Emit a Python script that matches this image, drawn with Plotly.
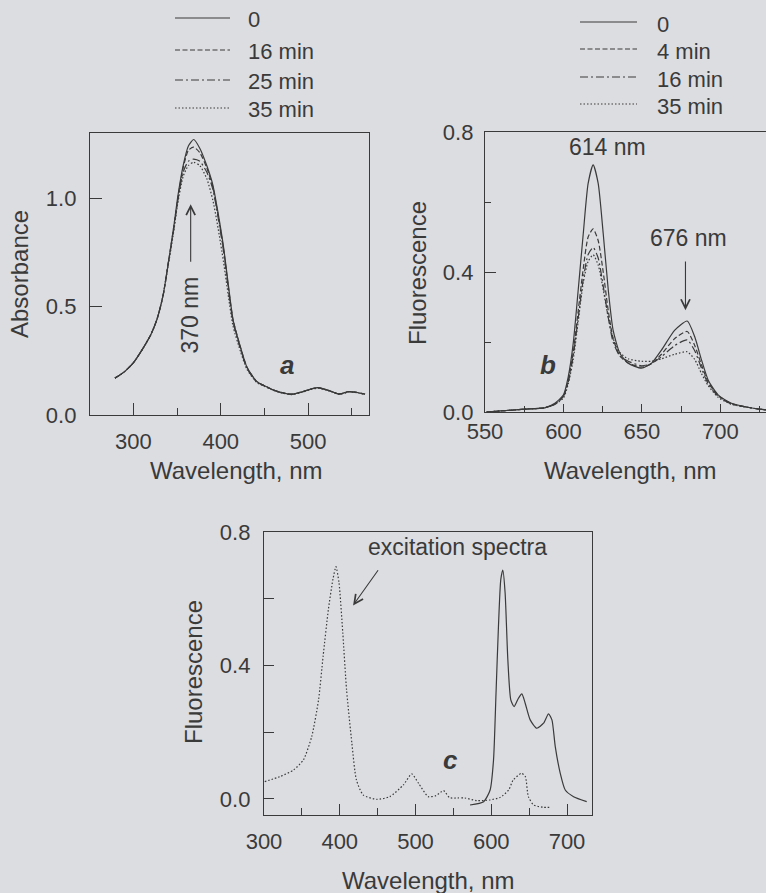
import plotly.graph_objects as go

# ---------------- data ----------------
# panel a: absorbance spectra
A_WL = [279, 290, 300, 310, 320, 327, 334, 340, 346, 351, 357, 363, 369, 376, 384, 391, 397, 403,
        409, 414, 422, 430, 441, 450, 460, 470, 481, 494, 503, 511, 518, 525, 536, 546, 555, 565]
A_0 = [0.17, 0.20, 0.24, 0.30, 0.37, 0.44, 0.55, 0.70, 0.86, 1.01, 1.15, 1.24, 1.27, 1.23, 1.15, 1.06,
       0.93, 0.78, 0.59, 0.44, 0.32, 0.22, 0.155, 0.135, 0.116, 0.103, 0.096, 0.108, 0.12, 0.126,
       0.12, 0.111, 0.097, 0.108, 0.105, 0.096]
A_16 = [0.17, 0.20, 0.24, 0.30, 0.37, 0.44, 0.55, 0.70, 0.86, 1.00, 1.14, 1.22, 1.235, 1.21, 1.14, 1.05,
        0.92, 0.77, 0.58, 0.44, 0.32, 0.22, 0.155, 0.135, 0.116, 0.103, 0.096, 0.108, 0.12, 0.126,
        0.12, 0.111, 0.097, 0.108, 0.105, 0.096]
A_25 = [0.17, 0.20, 0.24, 0.30, 0.37, 0.44, 0.55, 0.70, 0.85, 0.99, 1.12, 1.17, 1.18, 1.17, 1.12, 1.04,
        0.91, 0.76, 0.57, 0.43, 0.31, 0.215, 0.153, 0.134, 0.115, 0.102, 0.095, 0.107, 0.119, 0.125,
        0.119, 0.11, 0.096, 0.107, 0.104, 0.095]
A_35 = [0.17, 0.20, 0.24, 0.30, 0.37, 0.44, 0.55, 0.69, 0.84, 0.98, 1.10, 1.15, 1.165, 1.15, 1.09, 0.99,
        0.86, 0.71, 0.54, 0.41, 0.30, 0.21, 0.15, 0.132, 0.114, 0.101, 0.094, 0.106, 0.118, 0.124,
        0.118, 0.109, 0.095, 0.106, 0.103, 0.094]
A_NAMES = ["0", "16 min", "25 min", "35 min"]

# panel b: fluorescence emission during irradiation
B_WL = [551, 560, 575, 588, 594.5, 600, 603, 606.2, 609.4, 612.6, 615.7, 618.9, 622.1, 625.3, 628.5,
        631.6, 635.9, 641.2, 649.7, 656, 662.4, 670.9, 678.8, 683.6, 687.9, 692.2, 698.5, 707, 721.9, 729]
B_0 = [0.0, 0.003, 0.008, 0.012, 0.025, 0.049, 0.10, 0.196, 0.35, 0.51, 0.653, 0.706, 0.653, 0.51, 0.35,
       0.234, 0.168, 0.139, 0.125, 0.139, 0.177, 0.234, 0.26, 0.215, 0.149, 0.091, 0.049, 0.025, 0.01, 0.006]
B_4 = [0.0, 0.003, 0.008, 0.012, 0.022, 0.045, 0.09, 0.17, 0.29, 0.41, 0.50, 0.523, 0.49, 0.40, 0.29,
       0.21, 0.16, 0.14, 0.128, 0.138, 0.165, 0.21, 0.23, 0.19, 0.135, 0.085, 0.047, 0.024, 0.01, 0.006]
B_16 = [0.0, 0.003, 0.008, 0.012, 0.022, 0.045, 0.085, 0.16, 0.27, 0.38, 0.45, 0.47, 0.44, 0.36, 0.27,
        0.20, 0.16, 0.145, 0.132, 0.138, 0.158, 0.19, 0.206, 0.175, 0.125, 0.08, 0.045, 0.023, 0.01, 0.006]
B_35 = [0.0, 0.003, 0.008, 0.012, 0.022, 0.04, 0.08, 0.15, 0.26, 0.37, 0.43, 0.449, 0.42, 0.35, 0.27,
        0.21, 0.17, 0.152, 0.145, 0.145, 0.152, 0.165, 0.172, 0.15, 0.11, 0.075, 0.042, 0.022, 0.01, 0.006]
B_NAMES = ["0", "4 min", "16 min", "35 min"]

# panel c: excitation (dotted) and emission (solid) spectra
C_EX_WL = [301, 321, 339, 352, 363, 372, 378, 385, 391, 395, 399, 404, 409, 416, 422, 431, 449, 466, 484,
           495, 504, 517, 527, 537, 545, 555, 565, 581, 598, 612, 623, 629, 640, 645, 649, 656, 669, 678]
C_EX = [0.052, 0.067, 0.087, 0.117, 0.187, 0.297, 0.427, 0.568, 0.658, 0.696, 0.648, 0.498, 0.327, 0.167,
        0.057, 0.012, -0.001, 0.007, 0.042, 0.075, 0.047, 0.007, 0.01, 0.025, 0.004, 0.003, 0.003, -0.005,
        -0.003, 0.005, 0.027, 0.057, 0.077, 0.067, 0.007, -0.018, -0.025, -0.025]
C_EM_WL = [572, 590, 598.5, 603, 606.3, 609.5, 612.6, 615.3, 618.3, 621.9, 625.8, 630.2, 635.9, 640.4,
           644.8, 651.4, 660.2, 669, 675.6, 680.1, 684.5, 691.1, 697.7, 708.7, 726]
C_EM = [-0.018, -0.008, 0.027, 0.117, 0.317, 0.517, 0.658, 0.686, 0.618, 0.417, 0.297, 0.277, 0.302, 0.315,
        0.287, 0.237, 0.212, 0.227, 0.255, 0.237, 0.157, 0.077, 0.027, 0.007, -0.008]

# ---------------- style ----------------
W, H = 766, 893
INK = "#3a3a3a"
BG = "#dcdde1"
FONT = "Liberation Sans, Arial, sans-serif"
FS = 22
FS_TITLE = 24
FS_NOTE = 23
LW = 1.2
DASHES = ["solid", "5px,2.5px", "8px,3px,2px,3px", "1.5px,2px"]


def px(x):
    return x / W


def py(y):
    return 1 - y / H


fig = go.Figure()


def add_line(x, y, dash, xa, ya):
    fig.add_trace(go.Scatter(
        x=x, y=y, mode="lines", showlegend=False, hoverinfo="skip",
        line=dict(color=INK, width=LW, dash=dash, shape="spline", smoothing=0.6),
        xaxis=xa, yaxis=ya))


for vals, d in zip([A_0, A_16, A_25, A_35], DASHES):
    add_line(A_WL, vals, d, "x", "y")
for vals, d in zip([B_0, B_4, B_16, B_35], DASHES):
    add_line(B_WL, vals, d, "x2", "y2")
add_line(C_EX_WL, C_EX, DASHES[3], "x3", "y3")
add_line(C_EM_WL, C_EM, DASHES[0], "x3", "y3")


def axis(domain, rng, tick0, dtick, ticklen, minor_dtick=None, minor_len=None, fmt=None, anchor=None,
         standoff=4):
    d = dict(domain=domain, range=rng, tick0=tick0, dtick=dtick, ticks="inside", ticklen=ticklen,
             tickwidth=1.1, tickcolor=INK, showline=True, mirror=True, linecolor=INK, linewidth=1.3,
             showgrid=False, zeroline=False, tickfont=dict(family=FONT, size=FS, color=INK),
             anchor=anchor, ticklabelstandoff=standoff, automargin=False, fixedrange=True)
    if minor_dtick:
        d["minor"] = dict(ticks="inside", ticklen=minor_len, dtick=minor_dtick, tick0=tick0,
                          tickcolor=INK, tickwidth=1.1, showgrid=False)
    if fmt:
        d["tickformat"] = fmt
    return d


layout = dict(
    template="none",
    width=W, height=H, margin=dict(l=0, r=0, t=0, b=0, pad=0, autoexpand=False),
    paper_bgcolor=BG, plot_bgcolor=BG,
    font=dict(family=FONT, size=FS, color=INK),
    showlegend=False,
    xaxis=axis([px(90), px(369)], [250.5, 569.5], 300, 100, 12, 50, 7, anchor="y", standoff=6),
    yaxis=axis([py(415), py(133)], [0, 1.3], 0, 0.5, 12, fmt=".1f", anchor="x", standoff=8),
    xaxis2=axis([px(485), px(766)], [550, 729], 550, 50, 8, 25, 6, anchor="y2", standoff=-1),
    yaxis2=axis([py(412), py(132)], [0, 0.8], 0, 0.4, 11, 0.2, 6, fmt=".1f", anchor="x2", standoff=6),
    xaxis3=axis([px(264), px(592)], [300, 733], 300, 100, 11, 50, 7, anchor="y3", standoff=6),
    yaxis3=axis([py(815), py(532)], [-0.048, 0.8], 0, 0.4, 10, 0.2, 10, fmt=".1f", anchor="x3", standoff=8),
)
fig.update_layout(**layout)

ann = []
shapes = []


def txt(text, x, y, xref="paper", yref="paper", angle=0, size=FS, xanchor="center", bold_italic=False):
    t = f"<b><i>{text}</i></b>" if bold_italic else text
    ann.append(dict(text=t, x=x, y=y, xref=xref, yref=yref, showarrow=False, textangle=angle,
                    font=dict(family=FONT, size=size, color=INK), xanchor=xanchor, yanchor="middle"))


def arrow(x, y, ax, ay, xref, yref):
    ann.append(dict(text="", x=x, y=y, ax=ax, ay=ay, xref=xref, yref=yref, axref=xref, ayref=yref,
                    showarrow=True, arrowhead=5, arrowsize=1.6, arrowwidth=1.1, arrowcolor=INK))


# axis titles
txt("Absorbance", px(20), py(274), angle=-90, size=FS_TITLE)
txt("Fluorescence", px(417), py(273), angle=-90, size=FS_TITLE)
txt("Fluorescence", px(193), py(672), angle=-90, size=FS_TITLE)
txt("Wavelength, nm", px(236), py(470), size=FS_TITLE)
txt("Wavelength, nm", px(630), py(470), size=FS_TITLE)
txt("Wavelength, nm", px(428), py(880), size=FS_TITLE)

# panel labels and annotations
txt("a", 475.7, 0.23, "x", "y", size=26, bold_italic=True)
txt("b", 590.4, 0.134, "x2", "y2", size=26, bold_italic=True)
txt("c", 545.7, 0.117, "x3", "y3", size=26, bold_italic=True)
txt("370 nm", 364.8, 0.463, "x", "y", angle=-90, size=FS_NOTE)
arrow(365.6, 0.972, 365.6, 0.70, "x", "y")
txt("614 nm", 628, 0.757, "x2", "y2", size=FS_NOTE)
txt("676 nm", 679.6, 0.497, "x2", "y2", size=FS_NOTE)
arrow(677.7, 0.291, 677.7, 0.434, "x2", "y2")
txt("excitation spectra", 556, 0.754, "x3", "y3", size=FS_NOTE)
arrow(417.6, 0.58, 452, 0.69, "x3", "y3")

# legends (drawn as lines + text)
A_ROWS = [18, 50, 80, 108]
B_ROWS = [22, 49, 77, 104]
for names, rows, x0, x1, xt in [(A_NAMES, A_ROWS, 175, 230, 246), (B_NAMES, B_ROWS, 580, 637, 655)]:
    for name, row, d in zip(names, rows, DASHES):
        shapes.append(dict(type="line", xref="paper", yref="paper", x0=px(x0), x1=px(x1),
                           y0=py(row), y1=py(row), line=dict(color=INK, width=LW, dash=d)))
        txt(name, px(xt), py(row + 2), xanchor="left")

fig.update_layout(annotations=ann, shapes=shapes)
fig.write_html("out.html")
